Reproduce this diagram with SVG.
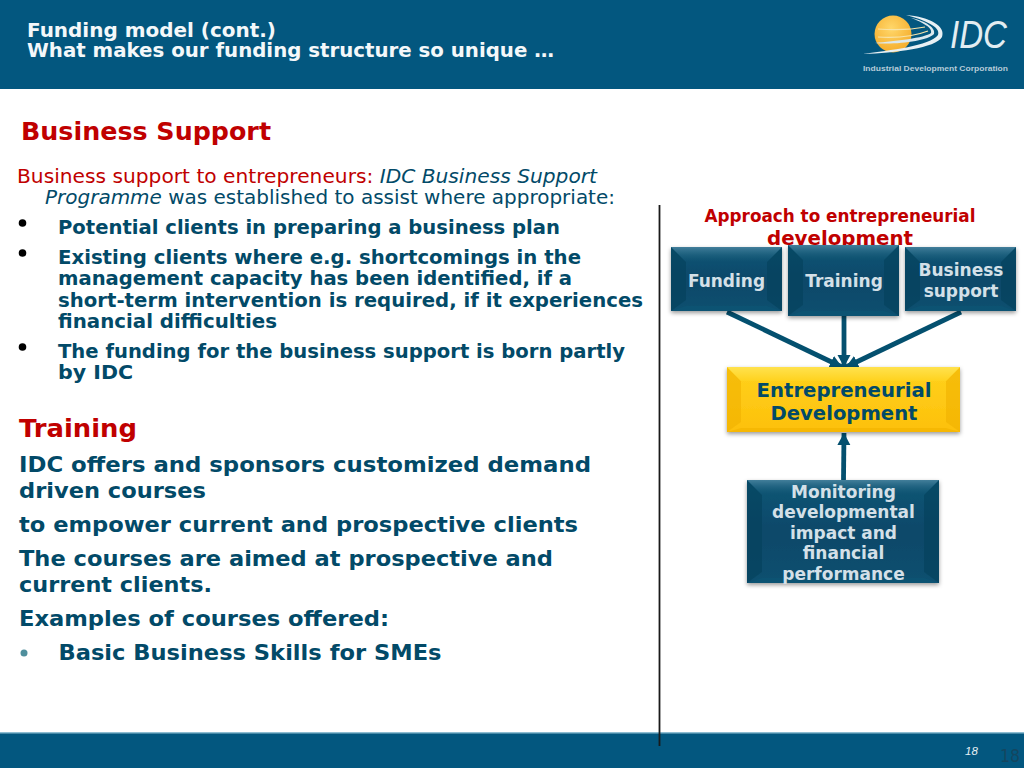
<svg xmlns="http://www.w3.org/2000/svg" width="1024" height="768" viewBox="0 0 1024 768">
<defs>
<linearGradient id="navy" x1="0" y1="0" x2="0" y2="1"><stop offset="0" stop-color="#0f5775"/><stop offset="0.5" stop-color="#07486a"/><stop offset="1" stop-color="#0a506f"/></linearGradient>
<linearGradient id="top" x1="0" y1="0" x2="0" y2="1"><stop offset="0" stop-color="#437f9b"/><stop offset="1" stop-color="#0f5372" stop-opacity="0.2"/></linearGradient>
<linearGradient id="gold" x1="0" y1="0" x2="0" y2="1"><stop offset="0" stop-color="#ffd21e"/><stop offset="1" stop-color="#fdc00a"/></linearGradient>
<linearGradient id="gt" x1="0" y1="0" x2="0" y2="1"><stop offset="0" stop-color="#ffe24e"/><stop offset="1" stop-color="#ffd21e"/></linearGradient>
<radialGradient id="sun" cx="0.45" cy="0.35" r="0.65"><stop offset="0" stop-color="#ffd76a"/><stop offset="1" stop-color="#f5ad2c"/></radialGradient>
<filter id="sh" x="-10%" y="-10%" width="120%" height="125%"><feDropShadow dx="0" dy="2" stdDeviation="2" flood-color="#000" flood-opacity="0.4"/></filter>
<marker id="arr" markerUnits="userSpaceOnUse" markerWidth="14" markerHeight="14" refX="12" refY="6.500" orient="auto"><path d="M0,0L12,6.500L0,13z" fill="#04506f"/></marker>
</defs>
<style>
text{font-family:"DejaVu Sans","Verdana",sans-serif}
.b{font-weight:bold}
.navy{fill:#024a68}
.red{fill:#c00000}
.box{font-weight:bold;font-size:17px;fill:#d4e0e8;text-anchor:middle}
.body{font-weight:bold;font-size:22px;fill:#024a68}
.list{font-weight:bold;font-size:19px;fill:#024a68}
.bul{fill:#000}
.conn{stroke:#04506f;stroke-width:4.800;fill:none}
.side{fill:#043f5a;fill-opacity:.55}
.bot{fill:#0b5674;fill-opacity:.6}
.gside{fill:#f0b000;fill-opacity:.6}
.gbot{fill:#f2b400;fill-opacity:.7}
</style>
<rect width="1024" height="768" fill="#fff"/>
<g id="header">
<rect x="0" y="0" width="1024" height="89" fill="#03577f"/>
<text class="b" x="27" y="37" font-size="19" fill="#f4f8fa" textLength="249" lengthAdjust="spacingAndGlyphs">Funding model (cont.)</text>
<text class="b" x="27" y="57" font-size="19" fill="#f4f8fa" textLength="527" lengthAdjust="spacingAndGlyphs">What makes our funding structure so unique …</text>
</g>
<g id="logo">
<circle cx="893" cy="34" r="18.500" fill="url(#sun)"/>
<path d="M863,54C890,50 930,46 938,35C941,27 925,20 906,15C930,17 946,26 942,37C936,48 895,53 863,54z" fill="#e8f0f4"/>
<path d="M875,43C895,41 925,38 931,33C933,28 922,22 911,18C926,21 936,28 934,34C928,41 895,45 875,43z" fill="#dbe8ee"/>
<path d="M878,29C895,30 915,29 925,27" stroke="#f7e3a8" stroke-width="1.200" fill="none"/>
<path d="M878,37C895,38 915,36 928,31" stroke="#f7e3a8" stroke-width="1.200" fill="none"/>
<text x="950" y="48" font-size="38" fill="#e3edf2" textLength="57" lengthAdjust="spacingAndGlyphs" style="font-family:'Liberation Sans',sans-serif;font-style:italic">IDC</text>
<text x="863" y="71" font-size="8" font-weight="bold" fill="#b5cbd8" textLength="145" lengthAdjust="spacingAndGlyphs" style="font-family:'Liberation Sans',sans-serif">Industrial Development Corporation</text>
</g>
<g id="footer">
<rect x="0" y="733" width="1024" height="35" fill="#03577f"/>
<rect x="0" y="732" width="1024" height="1.500" fill="#8ebdd2"/>
<text x="965" y="755" font-size="11.500" font-style="italic" fill="#e8f0f4" style="font-family:'Liberation Sans',sans-serif">18</text>
<text x="1000" y="762" font-size="18" fill="#14465f" textLength="20" lengthAdjust="spacingAndGlyphs">18</text>
</g>
<g id="left-text">
<text class="b red" x="21" y="140" font-size="25" textLength="250" lengthAdjust="spacingAndGlyphs">Business Support</text>
<text x="17" y="183" font-size="19" textLength="580" lengthAdjust="spacingAndGlyphs"><tspan class="red">Business support to entrepreneurs: </tspan><tspan class="navy" font-style="italic">IDC Business Support</tspan></text>
<text class="navy" x="45" y="204" font-size="19" textLength="570" lengthAdjust="spacingAndGlyphs"><tspan font-style="italic">Programme</tspan> was established to assist where appropriate:</text>
<circle class="bul" cx="22.500" cy="223" r="3.800"/>
<text class="list" x="58" y="233.500" textLength="502" lengthAdjust="spacingAndGlyphs">Potential clients in preparing a business plan</text>
<circle class="bul" cx="22.500" cy="253" r="3.800"/>
<text class="list" x="58" y="263.500" textLength="523" lengthAdjust="spacingAndGlyphs">Existing clients where e.g. shortcomings in the</text>
<text class="list" x="58" y="285" textLength="514" lengthAdjust="spacingAndGlyphs">management capacity has been identified, if a</text>
<text class="list" x="58" y="306.500" textLength="585" lengthAdjust="spacingAndGlyphs">short-term intervention is required, if it experiences</text>
<text class="list" x="58" y="327.500" textLength="219" lengthAdjust="spacingAndGlyphs">financial difficulties</text>
<circle class="bul" cx="22.500" cy="347" r="3.800"/>
<text class="list" x="58" y="357.500" textLength="567" lengthAdjust="spacingAndGlyphs">The funding for the business support is born partly</text>
<text class="list" x="58" y="379" textLength="75" lengthAdjust="spacingAndGlyphs">by IDC</text>
<text class="b red" x="19" y="437" font-size="25" textLength="118" lengthAdjust="spacingAndGlyphs">Training</text>
<text class="body" x="19" y="471.500" textLength="572" lengthAdjust="spacingAndGlyphs">IDC offers and sponsors customized demand</text>
<text class="body" x="19" y="497.500" textLength="187" lengthAdjust="spacingAndGlyphs">driven courses</text>
<text class="body" x="19" y="531.500" textLength="559" lengthAdjust="spacingAndGlyphs">to empower current and prospective clients</text>
<text class="body" x="19" y="565.500" textLength="534" lengthAdjust="spacingAndGlyphs">The courses are aimed at prospective and</text>
<text class="body" x="19" y="591.500" textLength="193" lengthAdjust="spacingAndGlyphs">current clients.</text>
<text class="body" x="19" y="625.500" textLength="370" lengthAdjust="spacingAndGlyphs">Examples of courses offered:</text>
<circle cx="24" cy="653" r="3.500" fill="#4f8f9d"/>
<text class="body" x="58.500" y="659.500" textLength="383" lengthAdjust="spacingAndGlyphs">Basic Business Skills for SMEs</text>
</g>
<g id="divider"><line x1="659.500" y1="205" x2="659.500" y2="746" stroke="#1a1a1a" stroke-width="1.800"/></g>
<g id="diagram-title">
<text class="b red" x="840" y="222" font-size="17" text-anchor="middle" textLength="271" lengthAdjust="spacingAndGlyphs">Approach to entrepreneurial</text>
<text class="b red" x="840" y="245" font-size="20" text-anchor="middle" textLength="146" lengthAdjust="spacingAndGlyphs">development</text>
</g>
<g id="connectors">
<line class="conn" x1="727" y1="312" x2="842" y2="367" marker-end="url(#arr)"/>
<line class="conn" x1="844" y1="316" x2="844" y2="367" marker-end="url(#arr)"/>
<line class="conn" x1="961" y1="312" x2="846" y2="367" marker-end="url(#arr)"/>
<line class="conn" x1="843.500" y1="480" x2="844" y2="433" marker-end="url(#arr)"/>
</g>
<g id="node-funding">
<rect x="671" y="247" width="111" height="64" fill="url(#navy)" filter="url(#sh)"/>
<path class="side" d="M671,247L686,262V300L671,311z"/><path class="side" d="M782,247L767,262V300L782,311z"/><path class="bot" d="M671,311L686,306H767L782,311z"/>
<path d="M671,247H782L767,262H686z" fill="url(#top)"/>
<text class="box" x="726.500" y="287">Funding</text>
</g>
<g id="node-training">
<rect x="788" y="245" width="111" height="71" fill="url(#navy)" filter="url(#sh)"/>
<path class="side" d="M788,245L803,260V305L788,316z"/><path class="side" d="M899,245L884,260V305L899,316z"/><path class="bot" d="M788,316L803,311H884L899,316z"/>
<path d="M788,245H899L884,260H803z" fill="url(#top)"/>
<text class="box" x="844" y="287">Training</text>
</g>
<g id="node-business-support">
<rect x="905" y="247" width="111" height="64" fill="url(#navy)" filter="url(#sh)"/>
<path class="side" d="M905,247L920,262V300L905,311z"/><path class="side" d="M1016,247L1001,262V300L1016,311z"/><path class="bot" d="M905,311L920,306H1001L1016,311z"/>
<path d="M905,247H1016L1001,262H920z" fill="url(#top)"/>
<text class="box" x="961" y="276">Business</text>
<text class="box" x="961" y="297">support</text>
</g>
<g id="node-entrepreneurial">
<rect x="727" y="367" width="233" height="65" fill="url(#gold)" filter="url(#sh)"/>
<path class="gside" d="M727,367L741,381V422L727,432z"/><path class="gside" d="M960,367L946,381V422L960,432z"/><path class="gbot" d="M727,432L741,428H946L960,432z"/>
<path d="M727,367H960L946,381H741z" fill="url(#gt)"/>
<text class="b navy" x="844" y="396.500" font-size="19.500" text-anchor="middle" textLength="175" lengthAdjust="spacingAndGlyphs">Entrepreneurial</text>
<text class="b navy" x="844" y="420" font-size="19.500" text-anchor="middle" textLength="147" lengthAdjust="spacingAndGlyphs">Development</text>
</g>
<g id="node-monitoring">
<rect x="747" y="480" width="192" height="103" fill="url(#navy)" filter="url(#sh)"/>
<path class="side" d="M747,480L762,495V572L747,583z"/><path class="side" d="M939,480L924,495V572L939,583z"/><path class="bot" d="M747,583L762,578H924L939,583z"/>
<path d="M747,480H939L924,495H762z" fill="url(#top)"/>
<text class="box" x="843.500" y="497.500">Monitoring</text>
<text class="box" x="843.500" y="518">developmental</text>
<text class="box" x="843.500" y="538.500">impact and</text>
<text class="box" x="843.500" y="559">financial</text>
<text class="box" x="843.500" y="579.500">performance</text>
</g>
</svg>
